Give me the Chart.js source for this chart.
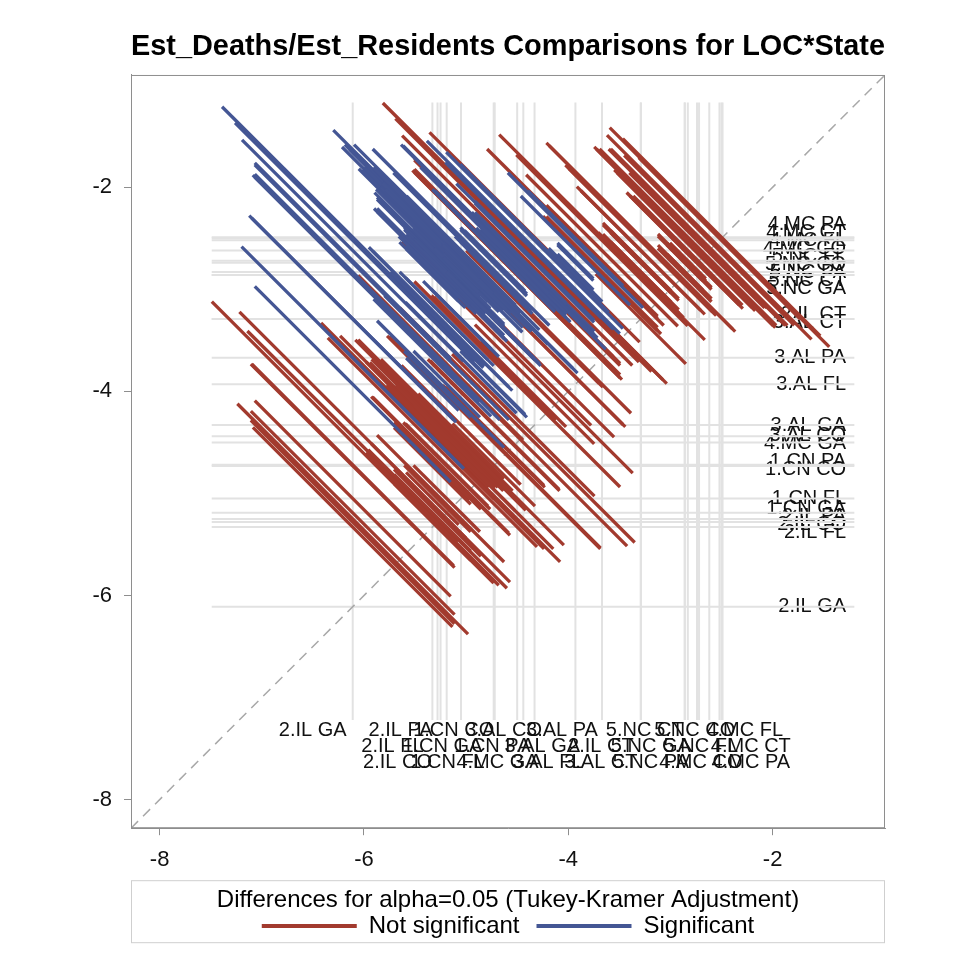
<!DOCTYPE html>
<html>
<head>
<meta charset="utf-8">
<title>Est_Deaths/Est_Residents Comparisons for LOC*State</title>
<script src="https://cdn.jsdelivr.net/npm/chart.js@4.4.1/dist/chart.umd.min.js"></script>
<style>
  html, body { margin: 0; padding: 0; background: #ffffff; }
  #wrap { width: 954px; height: 961px; position: relative; }
</style>
</head>
<body>
<div id="wrap"><canvas id="diffogram" width="954" height="961"></canvas></div>
<script>
// LS-mean levels of LOC*State (log scale estimates)
const levels = [
  '1.CN CO', '1.CN FL', '1.CN GA', '1.CN PA',
  '2.IL CO', '2.IL CT', '2.IL FL', '2.IL GA', '2.IL PA',
  '3.AL CO', '3.AL CT', '3.AL FL', '3.AL GA', '3.AL PA',
  '4.MC CO', '4.MC CT', '4.MC FL', '4.MC GA', '4.MC PA',
  '5.NC CO', '5.NC CT', '5.NC FL', '5.NC GA', '5.NC PA'
];
const lsmeans = [
  -4.73, -5.05, -5.19, -4.72,
  -5.28, -3.29, -5.33, -6.11, -5.25,
  -4.44, -3.29, -3.93, -4.33, -3.67,
  -2.62, -2.50, -2.52, -4.50, -2.49,
  -2.74, -2.86, -2.72, -2.86, -2.83
];
const stdErrs = [
  0.155, 0.064, 0.155, 0.139,
  0.155, 0.180, 0.116, 0.490, 0.314,
  0.206, 0.139, 0.064, 0.294, 0.273,
  0.268, 0.232, 0.335, 0.515, 0.441,
  0.064, 0.064, 0.064, 0.119, 0.064
];
// Tukey-Kramer critical value (studentized range / sqrt(2))
const tukeyCrit = 3.88;
const tickValues = [-8, -6, -4, -2];
const axisMin = -8.28;
const axisMax = -0.9;

const RED = '#A23A2E';
const BLUE = '#445694';
const FONT = "'Liberation Sans', Arial, Helvetica, sans-serif";
Chart.defaults.font.family = FONT;

// ---- diffogram segments: one per pair, centred on (lower mean, higher mean)
// non-significant pairs are drawn first, significant pairs over them
const datasets = [];
for (let i = 0; i < levels.length; i++) {
  for (let j = i + 1; j < levels.length; j++) {
    const d = lsmeans[i] - lsmeans[j];
    const hw = tukeyCrit * Math.sqrt(stdErrs[i] ** 2 + stdErrs[j] ** 2);
    const lo = Math.min(lsmeans[i], lsmeans[j]);
    const hi = Math.max(lsmeans[i], lsmeans[j]);
    const significant = Math.abs(d) > hw;
    datasets.push({
      label: levels[i] + ' - ' + levels[j],
      data: [{ x: lo - hw / 2, y: hi + hw / 2 }, { x: lo + hw / 2, y: hi - hw / 2 }],
      showLine: true,
      borderColor: significant ? BLUE : RED,
      borderWidth: 3.3,
      borderCapStyle: 'butt',
      pointRadius: 0,
      order: significant ? 0 : 1
    });
  }
}

// reference lines at each LS-mean
const refX = [-7.49, -1.20];
const refY = [-1.17, -7.22];
lsmeans.forEach((m, i) => {
  datasets.push({
    label: 'h ' + levels[i],
    data: [{ x: refX[0], y: m }, { x: refX[1], y: m }],
    showLine: true, borderColor: '#e2e2e2', borderWidth: 2, pointRadius: 0, order: 1000
  });
  datasets.push({
    label: 'v ' + levels[i],
    data: [{ x: m, y: refY[0] }, { x: m, y: refY[1] }],
    showLine: true, borderColor: '#e2e2e2', borderWidth: 2, pointRadius: 0, order: 1000
  });
});

// line of equality
datasets.push({
  label: 'diagonal',
  data: [{ x: axisMin, y: axisMin }, { x: axisMax, y: axisMax }],
  showLine: true, borderColor: '#a8a8a8', borderWidth: 1.5, borderDash: [10, 7],
  pointRadius: 0, order: 999
});

// spread sorted positions so neighbours are at least `gap` apart
function spreadOut(ideals, gap) {
  const blocks = [];
  ideals.forEach((v, i) => {
    blocks.push({ sum: v - i * gap, n: 1 });
    while (blocks.length > 1) {
      const a = blocks[blocks.length - 2], b = blocks[blocks.length - 1];
      if (a.sum / a.n > b.sum / b.n) {
        blocks.pop(); a.sum += b.sum; a.n += b.n;
      } else break;
    }
  });
  const out = [];
  blocks.forEach(b => { for (let t = 0; t < b.n; t++) out.push(b.sum / b.n); });
  return out.map((v, i) => v + i * gap);
}

const levelLabels = {
  id: 'levelLabels',
  beforeDatasetsDraw(chart) {
    const { ctx, scales: { x, y } } = chart;
    ctx.save();
    ctx.font = '20px ' + FONT;
    ctx.fillStyle = '#111';
    // right-hand labels
    const byY = lsmeans.map((m, i) => ({ i, p: y.getPixelForValue(m) })).sort((a, b) => a.p - b.p);
    const ys = spreadOut(byY.map(o => o.p), 8);
    ctx.textAlign = 'right';
    ctx.textBaseline = 'middle';
    const xr = x.getPixelForValue(-1.28);
    byY.forEach((o, n) => ctx.fillText(levels[o.i], xr, ys[n]));
    // bottom labels, staggered over three rows and nudged right when crowded
    const byX = lsmeans.map((m, i) => ({ i, p: x.getPixelForValue(m) - 40 })).sort((a, b) => a.p - b.p);
    const rowY = [-7.32, -7.48, -7.64].map(v => y.getPixelForValue(v));
    const lastInRow = [-Infinity, -Infinity, -Infinity];
    ctx.textAlign = 'center';
    byX.forEach((o, n) => {
      const r = n % 3;
      const cx = Math.max(o.p, lastInRow[r] + 50);
      lastInRow[r] = cx;
      ctx.fillText(levels[o.i], cx, rowY[r]);
    });
    ctx.restore();
  },
  afterDraw(chart) {
    const { ctx, chartArea: a, legend } = chart;
    ctx.save();
    ctx.strokeStyle = '#8e8e8e';
    ctx.lineWidth = 1;
    ctx.strokeRect(a.left + 0.5, a.top + 0.5, a.right - a.left - 1, a.bottom - a.top - 1);
    ctx.strokeStyle = '#cfcfcf';
    ctx.strokeRect(a.left + 0.5, legend.top + 0.5, a.right - a.left - 1, 62);
    ctx.restore();
  }
};

new Chart(document.getElementById('diffogram'), {
  type: 'scatter',
  data: { datasets },
  options: {
    responsive: false,
    animation: false,
    events: [],
    layout: { padding: { left: 18, right: 69, top: 0, bottom: 13 } },
    scales: {
      x: {
        type: 'linear', min: axisMin, max: axisMax,
        afterBuildTicks: s => { s.ticks = tickValues.map(v => ({ value: v })); },
        afterFit: s => { s.height = 52; },
        ticks: { font: { size: 22 }, color: '#111', padding: 12, autoSkip: false, maxRotation: 0,
                 callback: v => String(v) },
        grid: { drawOnChartArea: false, drawTicks: true, tickLength: 7, color: '#8e8e8e' },
        border: { display: true, color: '#8e8e8e' }
      },
      y: {
        type: 'linear', min: axisMin, max: axisMax,
        afterBuildTicks: s => { s.ticks = tickValues.map(v => ({ value: v })); },
        afterFit: s => { s.width = 113; },
        ticks: { font: { size: 22 }, color: '#111', padding: 12, autoSkip: false,
                 callback: v => String(v) },
        grid: { drawOnChartArea: false, drawTicks: true, tickLength: 7, color: '#8e8e8e' },
        border: { display: true, color: '#8e8e8e' }
      }
    },
    plugins: {
      tooltip: { enabled: false },
      title: {
        display: true, fullSize: false,
        text: 'Est_Deaths/Est_Residents Comparisons for LOC*State',
        color: '#000', font: { size: 29.4, weight: 'bold' },
        padding: { top: 29, bottom: 10.7 }
      },
      legend: {
        display: true, position: 'bottom', fullSize: false,
        title: {
          display: true, text: 'Differences for alpha=0.05 (Tukey-Kramer Adjustment)',
          color: '#000', font: { size: 24 }, padding: { top: 8, bottom: -20 }
        },
        labels: {
          usePointStyle: true, pointStyle: 'line', pointStyleWidth: 95,
          padding: 17, color: '#000', font: { size: 24 },
          generateLabels: () => [
            { text: 'Not significant', strokeStyle: RED, fillStyle: RED, lineWidth: 4, pointStyle: 'line', hidden: false, fontColor: '#000' },
            { text: 'Significant', strokeStyle: BLUE, fillStyle: BLUE, lineWidth: 4, pointStyle: 'line', hidden: false, fontColor: '#000' }
          ]
        }
      }
    }
  },
  plugins: [levelLabels]
});
</script>
</body>
</html>
